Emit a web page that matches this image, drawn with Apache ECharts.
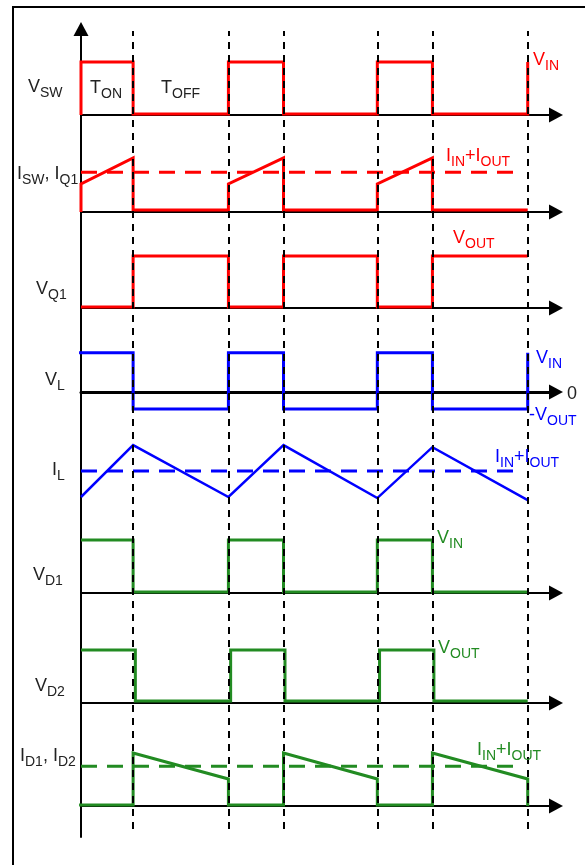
<!DOCTYPE html>
<html>
<head>
<meta charset="utf-8">
<script src="https://cdn.jsdelivr.net/npm/echarts@6/dist/echarts.min.js"></script>
<style>
html, body { margin: 0; padding: 0; background: #fff; }
#chart { width: 585px; height: 865px; }
</style>
</head>
<body>
<div id="chart"></div>
<script>
// switching instants, in periods (T_ON ends at 0.35)
var edges = [0, 0.35, 0.99, 1.36, 1.99, 2.36, 3.0];
var edgesD2 = [0, 0.365, 1.005, 1.37, 2.005, 2.37, 3.0];   // V_D2 lags a little
var edgesLead = [-0.013, 0.35, 0.99, 1.36, 1.99, 2.36, 3.0];

// levels per interval, 1 = V_IN
var vswLevels = [1, 0.02, 1, 0.02, 1, 0.02];
var vq1Levels = [0.02, 0.98, 0.02, 0.98, 0.02, 0.98];
var vlLevels = [0.74, -0.32, 0.74, -0.32, 0.74, -0.32];
var vd1Levels = [1, 0.02, 1, 0.02, 1, 0.02];
var vd2Levels = [1, 0.04, 1, 0.04, 1, 0.04];

// ramps: value at start / end of each interval
var iswStart = [0.53, 0.04, 0.53, 0.04, 0.53, 0.04];
var iswEnd = [1.02, 0.04, 1.02, 0.04, 1.02, 0.04];
var idStart = [0.02, 1.0, 0.02, 1.0, 0.02, 1.0];
var idEnd = [0.02, 0.51, 0.02, 0.51, 0.02, 0.51];
var ilCorners = [0, 0.98, 0, 0.98, -0.02, 0.94, -0.06];

// averages (I_IN + I_OUT)
var iswAvg = 0.75, ilAvg = 0.49, idAvg = 0.75, avgEnd = 2.93;

var RED = '#ff0000', BLUE = '#0000ff', GREEN = '#228b22', INK = '#222';
var U = 53;          // px per level unit
var LEFT = 81, WIDTH = 475, XMAX = 3.19;

function steps(ts, lv) {
	var pts = [];
	for (var i = 0; i < lv.length; i++) {
		pts.push([ts[i], lv[i]]);
		pts.push([ts[i + 1], lv[i]]);
	}
	return pts;
}
function ramps(ts, a, b) {
	var pts = [];
	for (var i = 0; i < a.length; i++) {
		pts.push([ts[i], a[i]]);
		pts.push([ts[i + 1], b[i]]);
	}
	return pts;
}

var vsw = [[0, 0]].concat(steps(edges, vswLevels), [[3.0, 1]]);
var isw = [[0, 0]].concat(ramps(edges, iswStart, iswEnd));
var vq1 = steps(edges, vq1Levels);
var vl = steps(edgesLead, vlLevels).concat([[3.0, 0.74]]);
var il = edges.map(function (t, i) { return [t, ilCorners[i]]; });
var vd1 = steps(edges, vd1Levels);
var vd2 = steps(edgesD2, vd2Levels);
var id = ramps(edgesLead, idStart, idEnd).concat([[3.0, 0]]);

// channel rows: baseline pixel and visible range
var rows = [
	{ base: 115, min: 0, max: 1.1, data: vsw, color: RED },
	{ base: 212, min: 0, max: 1.1, data: isw, color: RED, avg: iswAvg },
	{ base: 308, min: 0, max: 1.1, data: vq1, color: RED },
	{ base: 392, min: -0.4, max: 0.8, data: vl, color: BLUE, axisW: 3 },
	{ base: 497, min: -0.1, max: 1.05, data: il, color: BLUE, avg: ilAvg, noAxis: true, w: 2.5 },
	{ base: 593, min: 0, max: 1.1, data: vd1, color: GREEN },
	{ base: 703, min: 0, max: 1.1, data: vd2, color: GREEN },
	{ base: 806, min: 0, max: 1.1, data: id, color: GREEN, avg: idAvg }
];

var grid = [
	{ left: LEFT, width: WIDTH, top: 29, height: 808 },
	{ left: LEFT, width: WIDTH, top: 31, height: 798 }
];
var xAxis = [
	{ type: 'value', min: 0, max: XMAX, show: false },
	{ type: 'value', min: 0, max: XMAX, show: false, gridIndex: 1 }
];
var yAxis = [
	{ type: 'value', min: 0, max: 1, axisLine: { show: true, symbol: ['none', 'triangle'], symbolSize: [15, 14], lineStyle: { color: '#000', width: 2 } },
	  axisTick: { show: false }, axisLabel: { show: false }, splitLine: { show: false } },
	{ type: 'value', min: 0, max: 1, show: false, gridIndex: 1 }
];
var series = [{
	type: 'line', xAxisIndex: 1, yAxisIndex: 1, data: [[0, 0]], symbol: 'none',
	lineStyle: { opacity: 0 }, z: 6,
	markLine: {
		silent: true, symbol: ['none', 'none'], label: { show: false },
		lineStyle: { color: '#000', width: 2, type: [7, 6] },
		data: edges.slice(1).map(function (t) { return { xAxis: t }; })
	}
}];

rows.forEach(function (r, k) {
	var g = k + 2;
	grid.push({ left: LEFT, width: WIDTH, top: r.base - r.max * U, height: (r.max - r.min) * U });
	xAxis.push({
		type: 'value', gridIndex: g, min: 0, max: XMAX, show: !r.noAxis,
		axisLine: { onZero: true, symbol: ['none', 'triangle'], symbolSize: [15, 14], lineStyle: { color: '#000', width: r.axisW || 2 } },
		axisTick: { show: false }, axisLabel: { show: false }, splitLine: { show: false }
	});
	yAxis.push({ type: 'value', gridIndex: g, min: r.min, max: r.max, show: false });
	series.push({
		type: 'line', xAxisIndex: g, yAxisIndex: g, data: r.data, symbol: 'none', clip: false, z: 3,
		lineStyle: { color: r.color, width: r.w || 3, cap: 'butt', join: 'miter' }
	});
	if (r.avg != null) {
		series.push({
			type: 'line', xAxisIndex: g, yAxisIndex: g, data: [[0, r.avg], [avgEnd, r.avg]], symbol: 'none', clip: false, z: 2,
			lineStyle: { color: r.color, width: 3, type: [16, 10] }
		});
	}
});

// text labels: [left x, baseline y, parts, colour]
var labels = [
	[28, 93, [['V', 0], ['SW', 1]], INK],
	[90, 94, [['T', 0], ['ON', 1]], INK],
	[161, 94, [['T', 0], ['OFF', 1]], INK],
	[533, 66, [['V', 0], ['IN', 1]], RED],
	[17, 180, [['I', 0], ['SW', 1], [', I', 0], ['Q1', 1]], INK],
	[446, 162, [['I', 0], ['IN', 1], ['+I', 0], ['OUT', 1]], RED],
	[36, 295, [['V', 0], ['Q1', 1]], INK],
	[453, 244, [['V', 0], ['OUT', 1]], RED],
	[45, 386, [['V', 0], ['L', 1]], INK],
	[536, 364, [['V', 0], ['IN', 1]], BLUE],
	[567, 400, [['0', 0]], INK],
	[529, 421, [['-V', 0], ['OUT', 1]], BLUE],
	[52, 476, [['I', 0], ['L', 1]], INK],
	[495, 463, [['I', 0], ['IN', 1], ['+I', 0], ['OUT', 1]], BLUE],
	[33, 581, [['V', 0], ['D1', 1]], INK],
	[437, 544, [['V', 0], ['IN', 1]], GREEN],
	[35, 692, [['V', 0], ['D2', 1]], INK],
	[438, 654, [['V', 0], ['OUT', 1]], GREEN],
	[20, 762, [['I', 0], ['D1', 1], [', I', 0], ['D2', 1]], INK],
	[477, 756, [['I', 0], ['IN', 1], ['+I', 0], ['OUT', 1]], GREEN]
];

var FONT = '"Liberation Sans", Arial, sans-serif';
var MAIN = 18, SUB = 14, SUBDROP = 4.5;
var ctx = document.createElement('canvas').getContext('2d');
var graphic = [{
	type: 'rect', shape: { x: 13, y: 7, width: 640, height: 900 },
	style: { fill: 'none', stroke: '#000', lineWidth: 2 }, z: 10, silent: true
}];
labels.forEach(function (l) {
	var x = l[0];
	l[2].forEach(function (p) {
		var size = p[1] ? SUB : MAIN;
		var font = size + 'px ' + FONT;
		ctx.font = font;
		var y = l[1] + (p[1] ? SUBDROP : 0) - size * 0.34;
		graphic.push({
			type: 'text', x: x, y: y, silent: true, z: 10,
			style: { text: p[0], font: font, fill: l[3], align: 'left', verticalAlign: 'middle' }
		});
		x += ctx.measureText(p[0]).width;
	});
});

var myChart = echarts.init(document.getElementById('chart'));
myChart.setOption({
	animation: false,
	grid: grid,
	xAxis: xAxis,
	yAxis: yAxis,
	series: series,
	graphic: graphic
});
</script>
</body>
</html>
